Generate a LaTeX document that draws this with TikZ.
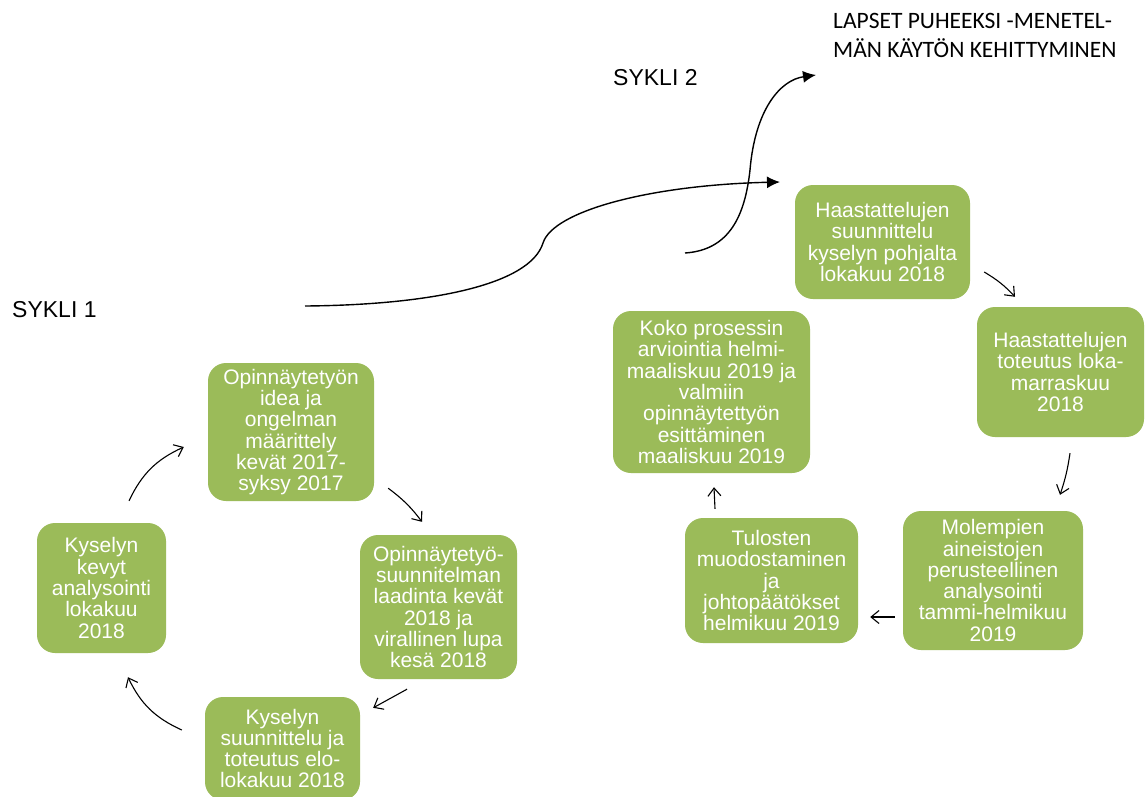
\documentclass[tikz,border=0pt]{standalone}
\usepackage{fontspec}
\setmainfont{Liberation Sans}
\newfontfamily\headfont{Carlito}
\usetikzlibrary{arrows.meta}
\definecolor{boxgreen}{HTML}{9BBB59}

\begin{document}
\begin{tikzpicture}[x=1pt, y=-1pt,
    stage/.style={fill=boxgreen, rounded corners=18pt, text=white, align=center,
      inner sep=0pt, font=\fontsize{21}{21.3}\selectfont},
    cycarrow/.style={line width=1.1pt, -{Straight Barb[length=8pt,width=13pt]}},
    flow/.style={line width=1.4pt, -{Latex[length=13pt,width=12pt]}}]
    \useasboundingbox[fill=white] (0,0) rectangle (1146,796);

    % labels
    \node[anchor=base west, inner sep=0pt, font=\fontsize{23}{27}\selectfont] (sykli1) at (12,317) {SYKLI 1};
    \node[anchor=base west, inner sep=0pt, font=\fontsize{23}{27}\selectfont] (sykli2) at (613,85) {SYKLI 2};
    \node[anchor=north west, inner sep=0pt, align=left, font=\headfont\fontsize{23.5}{29}\selectfont] (outcome) at (833,13)
      {LAPSET PUHEEKSI -MENETEL-\\MÄN KÄYTÖN KEHITTYMINEN};

    % cycle 1
    \node[stage, minimum width=166pt, minimum height=138pt] (idea)   at (291,432)
      {Opinnäytetyön\\idea ja\\ongelman\\määrittely\\kevät 2017-\\syksy 2017};
    \node[stage, minimum width=157pt, minimum height=144pt] (plan)   at (438.5,607)
      {Opinnäytetyö-\\suunnitelman\\laadinta kevät\\2018 ja\\virallinen lupa\\kesä 2018};
    \node[stage, minimum width=155pt, minimum height=103pt] (survey) at (282.5,748.5)
      {Kyselyn\\suunnittelu ja\\toteutus elo-\\lokakuu 2018};
    \node[stage, minimum width=129pt, minimum height=130pt] (quick)  at (101.5,588)
      {Kyselyn\\kevyt\\analysointi\\lokakuu\\2018};

    \draw[cycarrow] ([shift={(27.5,-22)}]quick.north) to[bend left=20] ([shift={(-24,15)}]idea.west);
    \draw[cycarrow] ([shift={(14,-13)}]idea.south east) to[bend left=8] ([shift={(-16.5,-13)}]plan.north);
    \draw[cycarrow] ([shift={(-31.5,10)}]plan.south) to ([shift={(13,11)}]survey.north east);
    \draw[cycarrow] ([shift={(-23,-18.5)}]survey.west) to[bend left=20] ([shift={(26.5,24)}]quick.south);

    % cycle 2
    \node[stage, minimum width=175pt, minimum height=114pt] (intplan)    at (882.5,242)
      {Haastattelujen\\suunnittelu\\kyselyn pohjalta\\lokakuu 2018};
    \node[stage, minimum width=167pt, minimum height=130pt] (interviews) at (1060.5,372)
      {Haastattelujen\\toteutus loka-\\marraskuu\\2018};
    \node[stage, minimum width=180pt, minimum height=139pt] (analysis)   at (993,580.5)
      {Molempien\\aineistojen\\perusteellinen\\analysointi\\tammi-helmikuu\\2019};
    \node[stage, minimum width=173pt, minimum height=125pt] (results)    at (771.5,580.5)
      {Tulosten\\muodostaminen\\ja\\johtopäätökset\\helmikuu 2019};
    \node[stage, minimum width=197pt, minimum height=162pt] (evaluation) at (711.5,392)
      {Koko prosessin\\arviointia helmi-\\maaliskuu 2019 ja\\valmiin\\opinnäytettyön\\esittäminen\\maaliskuu 2019};

    \draw[cycarrow] ([shift={(14,30)}]intplan.east) to[bend left=8] ([shift={(-45.5,-10)}]interviews.north);
    \draw[cycarrow] ([shift={(9.5,16)}]interviews.south) to[bend left=5] ([shift={(67,-16)}]analysis.north);
    \draw[cycarrow] ([shift={(-8,36.5)}]analysis.west) to ([shift={(12,36.5)}]results.east);
    \draw[cycarrow] ([shift={(-56.5,-9)}]results.north) to ([shift={(2.5,14)}]evaluation.south);

    % from cycle to cycle
    \coordinate (c1out) at (305,306);
    \coordinate (c2in)  at (780,182);
    \coordinate (c2out) at (685,253);
    \coordinate (goal)  at (816,75);
    \draw[flow] (c1out) .. controls (430,305) and (530,285) .. (543,243)
      .. controls (553,211) and (650,185) .. (c2in);
    \draw[flow] (c2out) .. controls (730,250) and (745,215) .. (750,170)
      .. controls (755,110) and (780,80) .. (goal);
\end{tikzpicture}
\end{document}
